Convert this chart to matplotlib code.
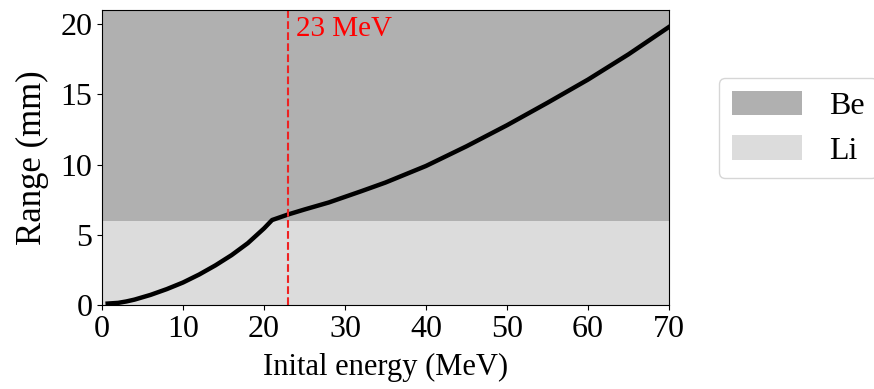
import numpy as np
import matplotlib
matplotlib.use("Agg")
import matplotlib.pyplot as plt

plt.rcParams['font.family'] = ['Liberation Serif', 'DejaVu Serif']

# proton range vs initial energy
energy_li = [0.7, 2, 3, 4, 6, 8, 10, 12, 14, 16, 18, 20, 21]
range_li = [0.1, 0.15, 0.25, 0.38, 0.72, 1.13, 1.6, 2.17, 2.82, 3.55, 4.4, 5.45, 6.05]
energy_be = [23, 25, 28, 30, 32, 35, 40, 45, 50, 55, 60, 65, 70]
range_be = [6.45, 6.8, 7.3, 7.7, 8.1, 8.72, 9.9, 11.3, 12.8, 14.4, 16.05, 17.85, 19.8]

li_thickness = 6.0
y_max = 21
x_max = 70
cutoff = 23

energy = energy_li + energy_be
rng = range_li + range_be

fig = plt.figure(figsize=(8.74, 3.89), dpi=100)
ax = fig.add_axes([0.1167, 0.216, 0.6487, 0.758])

ax.axhspan(li_thickness, y_max, color='#b0b0b0', label='Be', lw=0)
ax.axhspan(0, li_thickness, color='#dcdcdc', label='Li', lw=0)

ax.plot(energy, rng, color='black', lw=3.2)
ax.axvline(cutoff, color='#ee2222', ls='--', lw=1.5)
ax.text(cutoff + 0.9, 19.15, '23 MeV', color='red', fontsize=21)

ax.set_xlim(0, x_max)
ax.set_ylim(0, y_max)
ax.set_xticks(range(0, 71, 10))
ax.set_yticks(range(0, 21, 5))
ax.tick_params(labelsize=23)
ax.set_xlabel('Inital energy (MeV)', fontsize=22, labelpad=7)
ax.set_ylabel('Range (mm)', fontsize=25, labelpad=8)

ax.legend(loc='center left', bbox_to_anchor=(1.06, 0.6), fontsize=23,
          handlelength=2.2, handleheight=0.8, borderpad=0.4, labelspacing=0.45,
          handletextpad=0.85)

fig.savefig('out.png', dpi=100)
